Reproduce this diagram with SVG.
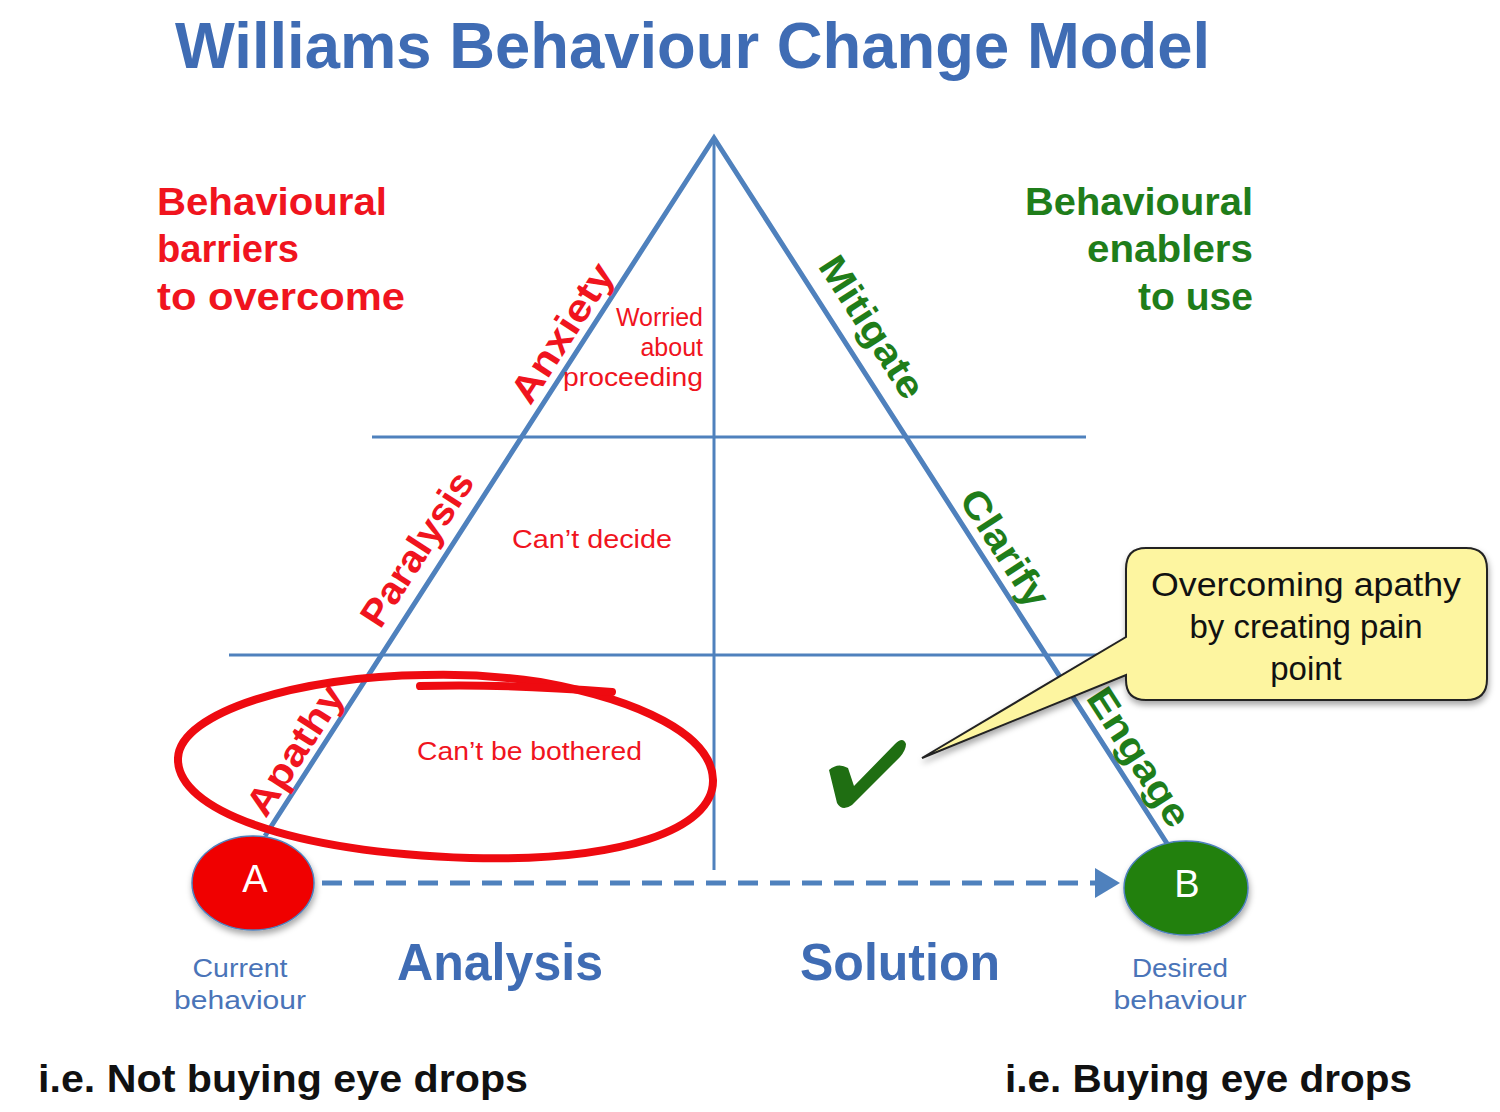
<svg xmlns="http://www.w3.org/2000/svg" width="1500" height="1112" viewBox="0 0 1500 1112">
<defs>
<style>
.title{font-family:"Liberation Sans",Arial,sans-serif;font-weight:bold;fill:#3f6cb4}
.red{fill:#f0141e}
.grn{fill:#1f7d1a}
.hd{font-family:"Liberation Sans",Arial,sans-serif;font-weight:bold;font-size:38px}
.lab{font-family:"Liberation Sans",Arial,sans-serif;font-weight:bold;font-size:38px;text-anchor:middle;dominant-baseline:central}
.thin{font-family:"Liberation Sans",Arial,sans-serif;font-size:25px}
.blu{fill:#4a74b8}
.foot{font-family:"Liberation Sans",Arial,sans-serif;font-weight:bold;font-size:38px;fill:#111}
.leg{stroke:#4f81bd;stroke-width:5;fill:none}
.grid{stroke:#4f81bd;stroke-width:3;fill:none}
</style>
<filter id="sh" x="-20%" y="-20%" width="140%" height="150%">
<feDropShadow dx="1" dy="4" stdDeviation="3" flood-color="#000" flood-opacity="0.35"/>
</filter>
<marker id="arr" markerWidth="6" markerHeight="6" refX="4" refY="3" orient="auto" markerUnits="strokeWidth">
<path d="M0,0 L5,3 L0,6 Z" fill="#4f81bd"/>
</marker>
</defs>
<rect width="1500" height="1112" fill="#fff"/>

<text class="title" x="175" y="68" font-size="64" textLength="1035" lengthAdjust="spacingAndGlyphs">Williams Behaviour Change Model</text>

<g id="barriers">
<text class="hd red" x="157" y="215" textLength="230" lengthAdjust="spacingAndGlyphs">Behavioural</text>
<text class="hd red" x="157" y="262" textLength="142" lengthAdjust="spacingAndGlyphs">barriers</text>
<text class="hd red" x="157" y="310" textLength="248" lengthAdjust="spacingAndGlyphs">to overcome</text>
</g>
<g id="enablers">
<text class="hd grn" x="1253" y="215" text-anchor="end" textLength="228" lengthAdjust="spacingAndGlyphs">Behavioural</text>
<text class="hd grn" x="1253" y="262" text-anchor="end" textLength="166" lengthAdjust="spacingAndGlyphs">enablers</text>
<text class="hd grn" x="1253" y="310" text-anchor="end" textLength="115" lengthAdjust="spacingAndGlyphs">to use</text>
</g>

<g id="connectors">
<line class="grid" x1="714" y1="140" x2="714" y2="870"/>
<line class="grid" x1="372" y1="437" x2="1086" y2="437"/>
<line class="grid" x1="229" y1="655" x2="1110" y2="655"/>
<path class="leg" d="M265,836 L714,138 L1168,845" stroke-linejoin="miter"/>
<line x1="322" y1="883" x2="1115" y2="883" stroke="#4f81bd" stroke-width="5" stroke-dasharray="20,12" marker-end="url(#arr)"/>
</g>

<g id="labels-left">
<text class="lab red" transform="translate(562,333) rotate(-57.2)" textLength="158" lengthAdjust="spacingAndGlyphs">Anxiety</text>
<text class="lab red" transform="translate(417,549) rotate(-57.2)" textLength="176" lengthAdjust="spacingAndGlyphs">Paralysis</text>
<text class="lab red" transform="translate(295,750) rotate(-57.2)" textLength="148" lengthAdjust="spacingAndGlyphs">Apathy</text>
</g>
<g id="labels-right">
<text class="lab grn" transform="translate(872,327) rotate(57.2)" textLength="162" lengthAdjust="spacingAndGlyphs">Mitigate</text>
<text class="lab grn" transform="translate(1005,548) rotate(57.2)" textLength="132" lengthAdjust="spacingAndGlyphs">Clarify</text>
<text class="lab grn" transform="translate(1139,757) rotate(57.2)" textLength="158" lengthAdjust="spacingAndGlyphs">Engage</text>
</g>

<g id="level-texts">
<text class="thin red" text-anchor="end" x="703" y="326">Worried</text>
<text class="thin red" text-anchor="end" x="703" y="356">about</text>
<text class="thin red" text-anchor="end" x="703" y="386" textLength="140" lengthAdjust="spacingAndGlyphs">proceeding</text>
<text class="thin red" x="512" y="548" textLength="160" lengthAdjust="spacingAndGlyphs">Can’t decide</text>
<text class="thin red" x="417" y="760" textLength="225" lengthAdjust="spacingAndGlyphs">Can’t be bothered</text>
</g>

<g id="circle-mark">
<path d="M425,675 C300,676 180,712 178,758 C176,810 290,852 470,858 C620,862 714,830 713,780 C712,735 640,700 540,682 C500,676 460,674 425,675 Z" fill="none" stroke="#ee0a10" stroke-width="8"/>
<path d="M612,692 C560,688 480,684 420,686" fill="none" stroke="#ee0a10" stroke-width="8" stroke-linecap="round"/>
</g>

<g id="nodeA">
<ellipse cx="253" cy="883" rx="61" ry="47" fill="#f00000" stroke="#4f81bd" stroke-width="1.5" filter="url(#sh)"/>
<text x="255" y="879" font-family="Liberation Sans,Arial,sans-serif" font-size="38" fill="#fff" text-anchor="middle" dominant-baseline="central">A</text>
<text class="thin blu" x="240" y="977" text-anchor="middle" font-size="27" textLength="95" lengthAdjust="spacingAndGlyphs">Current</text>
<text class="thin blu" x="240" y="1009" text-anchor="middle" font-size="27" textLength="132" lengthAdjust="spacingAndGlyphs">behaviour</text>
</g>
<g id="nodeB">
<ellipse cx="1186" cy="888" rx="62" ry="47" fill="#228011" stroke="#4f81bd" stroke-width="1.5" filter="url(#sh)"/>
<text x="1187" y="884" font-family="Liberation Sans,Arial,sans-serif" font-size="38" fill="#fff" text-anchor="middle" dominant-baseline="central">B</text>
<text class="thin blu" x="1180" y="977" text-anchor="middle" font-size="27" textLength="96" lengthAdjust="spacingAndGlyphs">Desired</text>
<text class="thin blu" x="1180" y="1009" text-anchor="middle" font-size="27" textLength="133" lengthAdjust="spacingAndGlyphs">behaviour</text>
</g>

<g id="phases">
<text class="title" x="397" y="980" font-size="52" textLength="206" lengthAdjust="spacingAndGlyphs">Analysis</text>
<text class="title" x="800" y="980" font-size="52" textLength="200" lengthAdjust="spacingAndGlyphs">Solution</text>
</g>

<g id="check">
<path d="M829,770 Q838,762 848,768 L854,786 L895,744 Q903,736 906,744 Q906,750 900,757 L852,805 Q842,812 837,803 Z" fill="#1f6e12"/>
</g>

<g id="callout" filter="url(#sh)">
<path d="M1146,548 L1466,548 Q1487,548 1487,569 L1487,679 Q1487,700 1466,700 L1146,700 Q1126,700 1126,680 L1126,675 L922,758 L1126,637 L1126,569 Q1126,548 1146,548 Z" fill="#fdf5a0" stroke="#222" stroke-width="2"/>
</g>
<g id="callout-text" font-family="Liberation Sans,Arial,sans-serif" font-size="33" fill="#111" text-anchor="middle">
<text x="1306" y="596" textLength="310" lengthAdjust="spacingAndGlyphs">Overcoming apathy</text>
<text x="1306" y="638">by creating pain</text>
<text x="1306" y="680">point</text>
</g>

<g id="footer">
<text class="foot" x="38" y="1092" textLength="490" lengthAdjust="spacingAndGlyphs">i.e. Not buying eye drops</text>
<text class="foot" x="1005" y="1092" textLength="407" lengthAdjust="spacingAndGlyphs">i.e. Buying eye drops</text>
</g>
</svg>
